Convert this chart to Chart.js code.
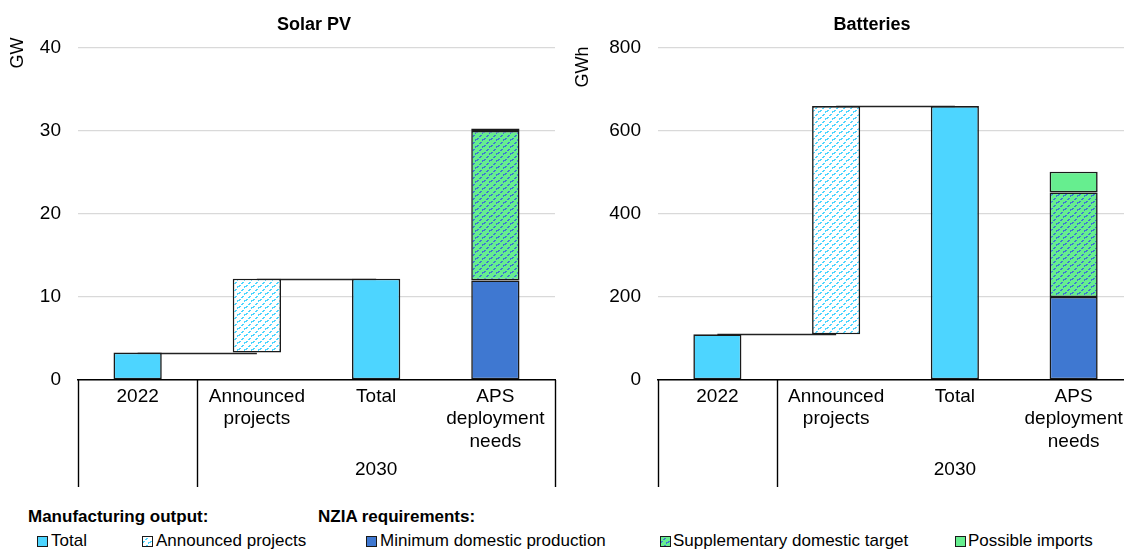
<!DOCTYPE html>
<html>
<head>
<meta charset="utf-8">
<script src="https://cdn.jsdelivr.net/npm/chart.js@4.4.0/dist/chart.umd.min.js"></script>
<style>
  html, body { margin: 0; padding: 0; background: #fff; }
  body { width: 1124px; height: 551px; overflow: hidden; position: relative; font-family: "Liberation Sans", Arial, sans-serif; }
  .wrap { position: absolute; top: 0; height: 500px; }
  #w1 { left: 0; width: 560px; }
  #w2 { left: 560px; width: 580px; }
  .lg { position: absolute; font-size: 17px; line-height: 20px; color: #000; white-space: nowrap; }
  .hd { font-weight: bold; }
  .sw { position: absolute; width: 11px; height: 11px; }
</style>
</head>
<body>
<div class="wrap" id="w1"><canvas id="solarChart"></canvas></div>
<div class="wrap" id="w2"><canvas id="batteryChart"></canvas></div>

<div class="lg hd" style="left:28px;top:507px">Manufacturing output:</div>
<div class="lg hd" style="left:318px;top:507px">NZIA requirements:</div>
<canvas class="sw" id="sw0" width="11" height="11" style="left:37px;top:536px"></canvas>
<div class="lg" style="left:51px;top:531px">Total</div>
<canvas class="sw" id="sw1" width="11" height="11" style="left:142px;top:536px"></canvas>
<div class="lg" style="left:156px;top:531px">Announced projects</div>
<canvas class="sw" id="sw2" width="11" height="11" style="left:366px;top:536px"></canvas>
<div class="lg" style="left:380px;top:531px">Minimum domestic production</div>
<canvas class="sw" id="sw3" width="11" height="11" style="left:660px;top:536px"></canvas>
<div class="lg" style="left:673px;top:531px">Supplementary domestic target</div>
<canvas class="sw" id="sw4" width="11" height="11" style="left:955px;top:536px"></canvas>
<div class="lg" style="left:968px;top:531px">Possible imports</div>

<script>
// categories on the x axis
const categories = ['2022', ['Announced', 'projects'], 'Total', ['APS', 'deployment', 'needs']];
const groupLabel = '2030';

// manufacturing output: 2022, announced additions, total 2030
const solarOutput = [3.3, 8.9, 12.2];
const batteryOutput = [110, 550, 660];

// NZIA requirements: minimum domestic, supplementary domestic, possible imports
const solarNeeds = [12, 18, 0.3];
const batteryNeeds = [200, 252, 50];

// y ticks
const solarTicks = [0, 10, 20, 30, 40];
const batteryTicks = [0, 200, 400, 600, 800];

const CYAN = '#4dd5ff';
const BLUE = '#3f78d1';
const GREEN = '#66ee8f';
const EDGE = '#1a1a1a';

// dotted diagonal hatch
function hatch(bg, fg) {
  const n = 7;
  const c = document.createElement('canvas');
  c.width = c.height = n;
  const g = c.getContext('2d');
  g.fillStyle = bg;
  g.fillRect(0, 0, n, n);
  g.fillStyle = fg;
  for (let i = 0; i < n; i++) {
    if (i % 3 !== 2) {
      g.fillRect(i, n - 1 - i, 2, 1);
      if (i === 0) g.fillRect(n - 1, n - 1, 1, 1);
    }
  }
  return g.createPattern(c, 'repeat');
}

const announcedFill = hatch('#ffffff', CYAN);
const supplementFill = hatch(GREEN, BLUE);

const decor = {
  id: 'decor',
  beforeDatasetsDraw(chart, args, opts) {
    const { ctx, scales: { x, y } } = chart;
    ctx.save();
    ctx.strokeStyle = '#222';
    ctx.lineWidth = 1.5;
    opts.connectors.forEach(([i, j, v]) => {
      const py = Math.round(y.getPixelForValue(v)) + 0.5;
      ctx.beginPath();
      ctx.moveTo(x.getPixelForValue(i), py);
      ctx.lineTo(x.getPixelForValue(j), py);
      ctx.stroke();
    });
    ctx.restore();
  },
  afterDraw(chart, args, opts) {
    const { ctx, chartArea: a, scales: { x } } = chart;
    ctx.save();
    // group separators
    ctx.strokeStyle = '#000';
    ctx.lineWidth = 1.4;
    const mid = (x.getPixelForValue(0) + x.getPixelForValue(1)) / 2;
    [a.left, mid, a.right].forEach(px => {
      ctx.beginPath();
      ctx.moveTo(Math.round(px) + 0.5, a.bottom);
      ctx.lineTo(Math.round(px) + 0.5, a.bottom + 107);
      ctx.stroke();
    });
    ctx.fillStyle = '#000';
    ctx.textAlign = 'center';
    ctx.textBaseline = 'middle';
    ctx.font = '19px "Liberation Sans", Arial, sans-serif';
    ctx.fillText(groupLabel, x.getPixelForValue(2), a.bottom + 90);
    // title
    ctx.font = 'bold 18px "Liberation Sans", Arial, sans-serif';
    ctx.fillText(opts.title, opts.titleX, 25);
    // unit
    ctx.font = '18px "Liberation Sans", Arial, sans-serif';
    ctx.translate(opts.unitX, opts.unitY);
    ctx.rotate(-Math.PI / 2);
    ctx.fillText(opts.unit, 0, 0);
    ctx.restore();
  }
};

function makeChart(id, output, needs, ticks, yAxisWidth, padRight, extra) {
  const n0 = needs[0], n1 = n0 + needs[1], n2 = n1 + needs[2];
  const top = output[0] + output[1];
  const base = { borderColor: EDGE, borderWidth: 1.6, borderSkipped: false, grouped: false,
                 barPercentage: 0.9, categoryPercentage: 0.45 };
  new Chart(document.getElementById(id).getContext('2d'), {
    type: 'bar',
    data: {
      labels: categories,
      datasets: [
        { ...base, label: 'Total', data: [output[0], null, output[2], null], backgroundColor: CYAN },
        { ...base, label: 'Announced projects', data: [null, [output[0], top], null, null], backgroundColor: announcedFill },
        { ...base, label: 'Minimum domestic production', data: [null, null, null, [0, n0]], backgroundColor: BLUE },
        { ...base, label: 'Supplementary domestic target', data: [null, null, null, [n0, n1]], backgroundColor: supplementFill },
        { ...base, label: 'Possible imports', data: [null, null, null, [n1, n2]], backgroundColor: GREEN },
      ],
    },
    options: {
      responsive: true,
      maintainAspectRatio: false,
      animation: false,
      layout: { padding: { left: 0, right: padRight, top: 48, bottom: 0 } },
      scales: {
        x: {
          grid: { display: false, drawTicks: false },
          border: { display: true, color: '#000', width: 1.5 },
          ticks: { color: '#000', font: { size: 19, family: '"Liberation Sans", Arial, sans-serif', lineHeight: 1.2 },
                   padding: 5, maxRotation: 0, autoSkip: false },
          afterFit: s => { s.height = 120; },
        },
        y: {
          min: ticks[0],
          max: ticks[ticks.length - 1],
          afterBuildTicks: s => { s.ticks = ticks.map(v => ({ value: v })); },
          grid: { color: '#d9d9d9', lineWidth: 1.3, drawTicks: false },
          border: { display: false },
          ticks: { color: '#000', font: { size: 19, family: '"Liberation Sans", Arial, sans-serif' }, padding: 17 },
          afterFit: s => { s.width = yAxisWidth; },
        },
      },
      plugins: {
        legend: { display: false },
        tooltip: { enabled: false },
        decor: { connectors: [[0, 1, output[0]], [1, 2, top]], ...extra },
      },
    },
    plugins: [decor],
  });
}

makeChart('solarChart', solarOutput, solarNeeds, solarTicks, 78, 5,
  { title: 'Solar PV', titleX: 314, unit: 'GW', unitX: 18, unitY: 53 });
makeChart('batteryChart', batteryOutput, batteryNeeds, batteryTicks, 98, 7,
  { title: 'Batteries', titleX: 312, unit: 'GWh', unitX: 23, unitY: 67 });

// legend swatches
const swatches = [CYAN, announcedFill, BLUE, supplementFill, GREEN];
swatches.forEach((fill, i) => {
  const g = document.getElementById('sw' + i).getContext('2d');
  g.fillStyle = fill;
  g.fillRect(0, 0, 11, 11);
  g.strokeStyle = EDGE;
  g.lineWidth = 1;
  g.strokeRect(0.5, 0.5, 10, 10);
});
</script>
</body>
</html>
